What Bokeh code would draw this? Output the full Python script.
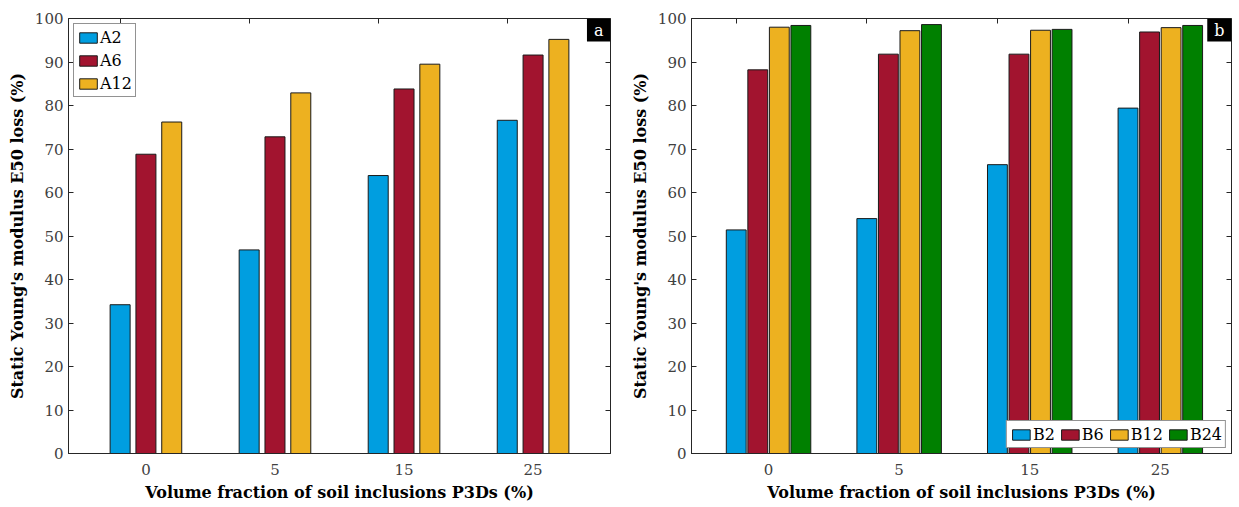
from bokeh.plotting import figure
from bokeh.layouts import row
from bokeh.models import (FixedTicker, LinearAxis, Legend, LegendItem, Label,
                          Range1d, ColumnDataSource)
from bokeh.embed import file_html
from bokeh.resources import INLINE

# ---------------- data ----------------
categories = ["0", "5", "15", "25"]

a_names = ["A2", "A6", "A12"]
a2 = [34.2, 46.8, 63.9, 76.6]
a6 = [68.8, 72.8, 83.8, 91.6]
a12 = [76.2, 82.9, 89.5, 95.2]

b_names = ["B2", "B6", "B12", "B24"]
b2 = [51.4, 54.0, 66.4, 79.4]
b6 = [88.2, 91.8, 91.8, 96.9]
b12 = [98.0, 97.2, 97.3, 97.9]
b24 = [98.4, 98.6, 97.5, 98.4]

y_ticks = [0, 10, 20, 30, 40, 50, 60, 70, 80, 90, 100]
x_title = "Volume fraction of soil inclusions P3Ds (%)"
y_title = "Static Young's modulus E50 loss (%)"

# ---------------- style ----------------
COLORS = ["#009ee0", "#a2142f", "#edb120", "#008000"]
FONT = "DejaVu Serif"
AX = "#262626"
TICK_COLOR = "#404040"


def panel(names, series, width, border_left, border_right, xr, step, bar_w,
          letter, legend_loc, legend_orient):
    n = len(names)
    pos = list(range(1, len(categories) + 1))
    p = figure(width=width, height=507, x_range=Range1d(*xr),
               y_range=Range1d(0, 100), output_backend="svg",
               toolbar_location=None, min_border_left=border_left,
               min_border_right=border_right, min_border_top=18,
               min_border_bottom=54)
    p.xgrid.grid_line_color = None
    p.ygrid.grid_line_color = None
    p.outline_line_color = AX
    p.outline_line_width = 1
    p.background_fill_color = "white"
    p.border_fill_color = "white"

    offsets = [(i - (n - 1) / 2) * step for i in range(n)]
    items = []
    for i, (nm, vals) in enumerate(zip(names, series)):
        src = ColumnDataSource(dict(x=[c + offsets[i] for c in pos], top=vals))
        r = p.vbar(x="x", top="top", bottom=0, width=bar_w, source=src,
                   fill_color=COLORS[i], line_color="#1a1a1a", line_width=1)
        items.append(LegendItem(label=nm, renderers=[r]))

    # bottom axis
    xa = p.xaxis[0]
    xa.ticker = FixedTicker(ticks=pos)
    xa.major_label_overrides = {c: lab for c, lab in zip(pos, categories)}
    xa.major_tick_in = 0
    xa.major_tick_out = 0
    xa.minor_tick_line_color = None
    xa.axis_line_color = AX
    xa.major_label_text_font = FONT
    xa.major_label_text_font_size = "15px"
    xa.major_label_text_color = TICK_COLOR
    xa.major_label_standoff = 10
    xa.axis_label = x_title
    xa.axis_label_text_font = FONT
    xa.axis_label_text_font_style = "bold"
    xa.axis_label_text_font_size = "16px"
    xa.axis_label_text_color = "black"
    xa.axis_label_standoff = 5

    # left axis
    ya = p.yaxis[0]
    ya.ticker = FixedTicker(ticks=y_ticks)
    ya.major_tick_in = 5
    ya.major_tick_out = 0
    ya.major_tick_line_color = AX
    ya.minor_tick_line_color = None
    ya.axis_line_color = AX
    ya.major_label_text_font = FONT
    ya.major_label_text_font_size = "15px"
    ya.major_label_text_color = TICK_COLOR
    ya.major_label_standoff = 5
    ya.axis_label = y_title
    ya.axis_label_text_font = FONT
    ya.axis_label_text_font_style = "bold"
    ya.axis_label_text_font_size = "16px"
    ya.axis_label_text_color = "black"
    ya.axis_label_standoff = 5

    # mirrored tick axes (ticks only)
    ra = LinearAxis(ticker=FixedTicker(ticks=y_ticks), major_tick_in=5,
                    major_tick_out=0, major_tick_line_color=AX,
                    minor_tick_line_color=None, axis_line_color=None,
                    major_label_text_font_size="1px",
                    major_label_text_color=None, major_label_standoff=0)
    p.add_layout(ra, "right")
    ta = LinearAxis(ticker=FixedTicker(ticks=[c + offsets[0] for c in pos]),
                    major_tick_in=5, major_tick_out=0, major_tick_line_color=AX,
                    minor_tick_line_color=None, axis_line_color=None,
                    major_label_text_font_size="1px",
                    major_label_text_color=None, major_label_standoff=0)
    p.add_layout(ta, "above")

    leg = Legend(items=items, location=legend_loc, orientation=legend_orient,
                 label_text_font=FONT, label_text_font_size="16px",
                 label_text_color="black", glyph_width=22, glyph_height=13,
                 label_standoff=1, spacing=3 if legend_orient == "vertical" else 4,
                 padding=3, margin=5, label_height=20,
                 border_line_color=AX, border_line_width=1,
                 background_fill_color="white", background_fill_alpha=1)
    p.add_layout(leg)

    lab = Label(x=xr[1], y=100, text=letter, text_align="right",
                text_baseline="top", text_color="white",
                background_fill_color="black", text_font=FONT,
                text_font_size="16px", padding=(7, 2))
    p.add_layout(lab)
    return p


pa = panel(a_names, [a2, a6, a12], 620, 68, 10, (0.4, 4.6), 0.2, 0.155,
           "a", "top_left", "vertical")
pb = panel(b_names, [b2, b6, b12, b24], 619, 71, 8, (0.41, 4.545), 0.165, 0.152,
           "b", "bottom_right", "horizontal")

layout = row(pa, pb)
open("out.html", "w").write(file_html(layout, INLINE))
